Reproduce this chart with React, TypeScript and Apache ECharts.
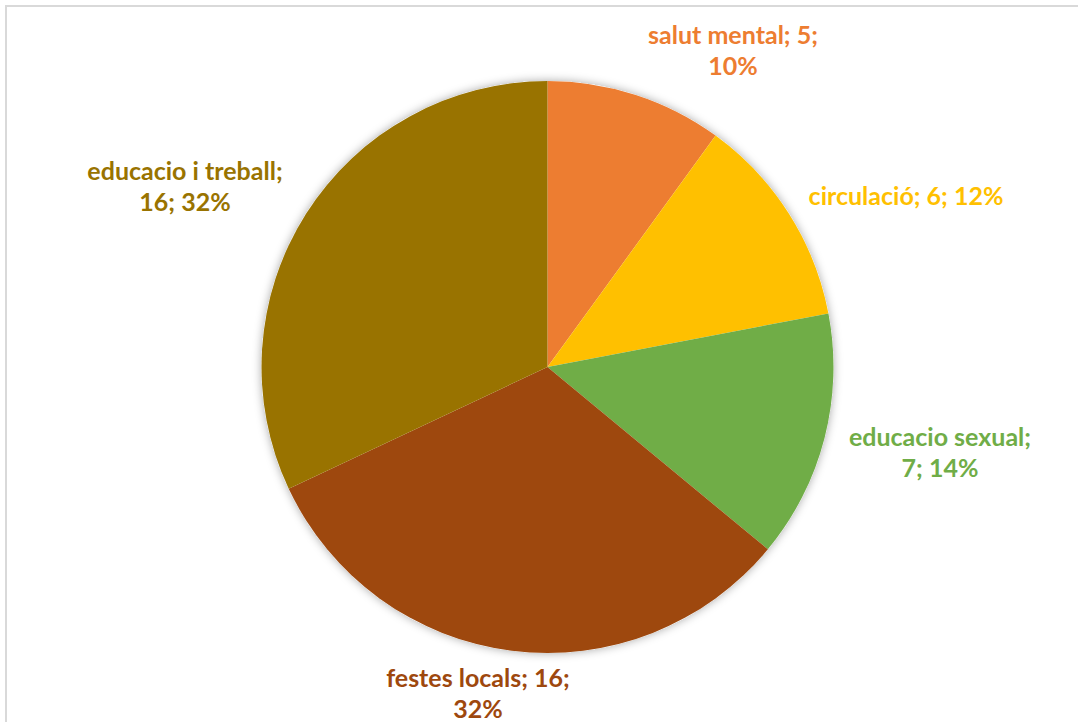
import React, { useEffect, useRef } from "react";
import * as echarts from "echarts";

const categories = ["salut mental", "circulació", "educacio sexual", "festes locals", "educacio i treball"];
const values = [5, 6, 7, 16, 16];
const colors = ["#ED7D31", "#FFC000", "#70AD47", "#9E480E", "#997300"];
// after which "; " segment the label wraps (-1 = no wrap)
const labelBreakAfter = [2, -1, 1, 2, 1];
// label centres (page pixels)
const labelCenters = [
  [733, 49],
  [906, 195],
  [940, 451],
  [478, 692],
  [185, 185],
];

export default function App() {
  const ref = useRef<HTMLDivElement>(null);
  useEffect(() => {
    if (!ref.current) return;
    const chart = echarts.init(ref.current, null, { renderer: "svg" });
    const total = values.reduce((a, b) => a + b, 0);
    const fontFamily = "Lato, 'Open Sans', sans-serif";
    chart.setOption({
      animation: false,
      backgroundColor: "#ffffff",
      graphic: [
        {
          type: "rect",
          shape: { x: 6, y: 6, width: 1200, height: 900 },
          style: { fill: "none", stroke: "#d9d9d9", lineWidth: 2 },
          silent: true,
          z: 0,
        },
      ],
      series: [
        {
          type: "pie",
          center: [547.5, 367],
          radius: 286,
          silent: true,
          z: 1,
          label: { show: false },
          labelLine: { show: false },
          itemStyle: {
            color: "#ffffff",
            shadowBlur: 10,
            shadowColor: "rgba(0,0,0,0.35)",
            shadowOffsetX: 0,
            shadowOffsetY: 0,
          },
          data: [{ value: total, name: "" }],
        },
        {
          type: "pie",
          center: [547.5, 367],
          radius: 286,
          startAngle: 90,
          clockwise: true,
          z: 2,
          itemStyle: { borderWidth: 0 },
          labelLine: { show: false },
          label: {
            show: true,
            position: "outside",
            fontFamily,
            fontWeight: "bold",
            fontSize: 25,
            lineHeight: 31,
            align: "center",
            formatter: (p: any) => {
              const pct = Math.round((p.value / total) * 100);
              const parts = [p.name, String(p.value), pct + "%"];
              const br = labelBreakAfter[p.dataIndex];
              if (br < 0) return parts.join("; ");
              return parts.slice(0, br).join("; ") + ";\n" + parts.slice(br).join("; ");
            },
          },
          labelLayout: (params: any) => {
            const c = labelCenters[params.dataIndex];
            return { x: c[0], y: c[1], align: "center", verticalAlign: "middle" };
          },
          data: categories.map((name, i) => ({
            name,
            value: values[i],
            itemStyle: { color: colors[i] },
            label: { color: colors[i] },
          })),
        },
      ],
    });
    return () => chart.dispose();
  }, []);
  return (
    <div
      ref={ref}
      style={{ position: "absolute", left: 0, top: 0, width: 1078, height: 722 }}
    />
  );
}
